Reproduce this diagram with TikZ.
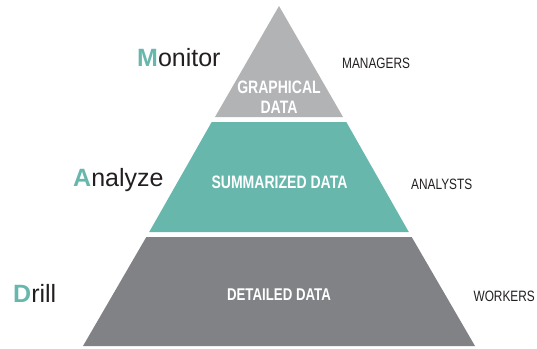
\documentclass[tikz,border=0pt]{standalone}
\usepackage{fontspec}
\setmainfont{Liberation Sans}
\newfontfamily\condfont[FakeStretch=0.79]{Liberation Sans}
\newfontfamily\condbold[FakeStretch=0.78]{Liberation Sans Bold}
\definecolor{teal}{HTML}{67B7AD}
\definecolor{lgrey}{HTML}{B2B3B5}
\definecolor{dgrey}{HTML}{808285}
\definecolor{ink}{HTML}{231F20}
\newcommand{\initial}[1]{\textcolor{teal}{\bfseries #1}}
\begin{document}
\begin{tikzpicture}[x=1pt,y=-1pt,
  bigword/.style={inner sep=0pt,anchor=base west,text=ink,font=\fontsize{25}{25}\selectfont},
  rolelabel/.style={inner sep=0pt,anchor=base west,text=ink,font=\condfont\fontsize{15}{15}\selectfont},
  layerlabel/.style={inner sep=0pt,anchor=base,text=white,font=\condbold\fontsize{18}{20}\selectfont}]
\useasboundingbox (0,0) rectangle (537,348);
% pyramid layers (apex 279,6; half-width slope 0.5765)
\fill[lgrey] (279,6) -- (343,117) -- (215,117) -- cycle;
\fill[teal] (211.7,122) -- (346.3,122) -- (408.8,232) -- (149.2,232) -- cycle;
\fill[dgrey] (146.3,237) -- (411.7,237) -- (475,346) -- (83,346) -- cycle;
% layer labels
\node[layerlabel] (graph1) at (279,93) {GRAPHICAL};
\node[layerlabel] (graph2) at (279,113) {DATA};
\node[layerlabel] (summ) at (279.5,188) {SUMMARIZED DATA};
\node[layerlabel,font=\condbold\fontsize{17}{20}\selectfont] (det) at (279,300) {DETAILED DATA};
% left words
\node[bigword] (mon) at (137,66) {\initial{M}onitor};
\node[bigword] (ana) at (73,186) {\initial{A}nalyze};
\node[bigword] (dri) at (13,302) {\initial{D}rill};
% right labels
\node[rolelabel] (man) at (342,68) {MANAGERS};
\node[rolelabel] (anl) at (411,189) {ANALYSTS};
\node[rolelabel,anchor=base east] (wor) at (535,301) {WORKERS};
\end{tikzpicture}
\end{document}
